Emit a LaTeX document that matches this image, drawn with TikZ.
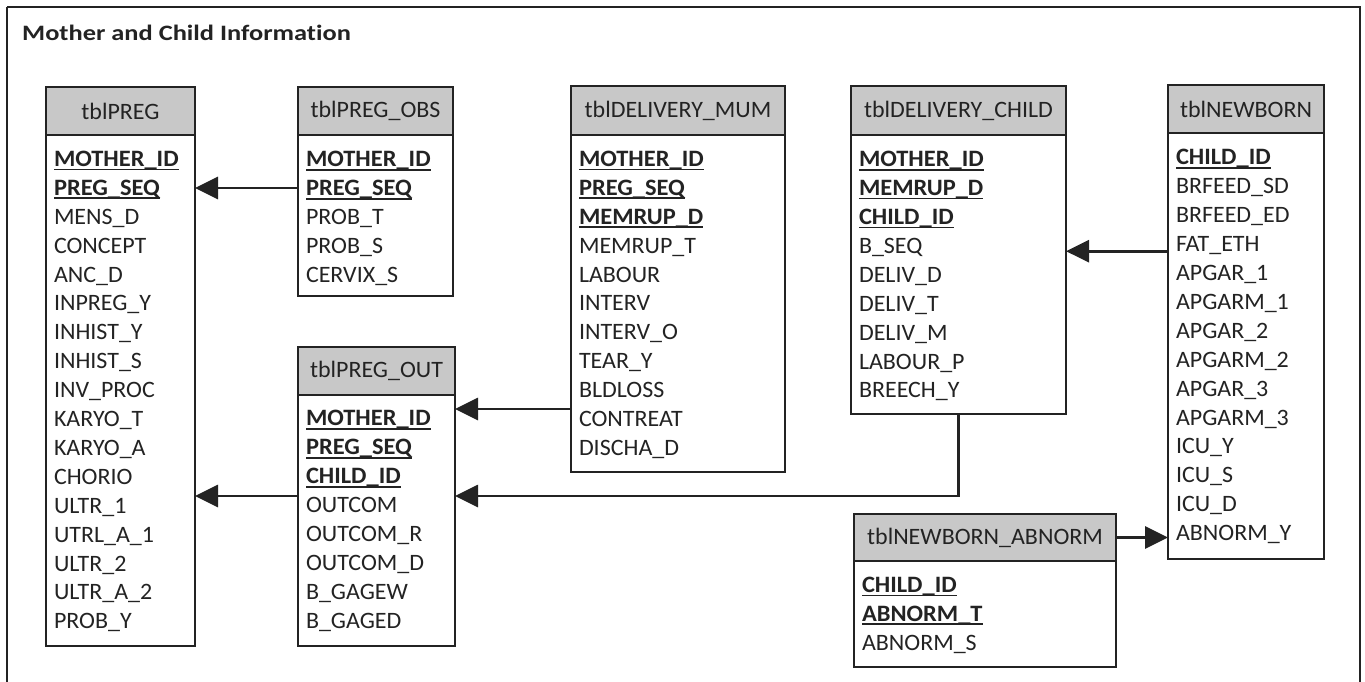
\documentclass[tikz,border=0pt]{standalone}
\usepackage{fontspec}
\setmainfont{Carlito}[FakeStretch=1.02, BoldFeatures={FakeStretch=1.04}]
\newfontfamily\titlefont{Carlito}[FakeStretch=1.2, Ligatures=NoCommon]
\usetikzlibrary{arrows.meta}
\definecolor{hdrgray}{RGB}{200,200,200}
\definecolor{ink}{RGB}{35,35,35}
\newcommand{\tfont}{\fontsize{23.5}{28.9}\selectfont}
\newcommand{\rs}{\rule[-8.7pt]{0pt}{28.9pt}}
\newsavebox{\kbox}
\newcommand{\kf}[1]{\sbox{\kbox}{\bfseries #1}\rlap{\rule[-3.8pt]{\wd\kbox}{1.7pt}}\usebox{\kbox}}
\newcommand{\dbtable}[8]{%
  \node[hdr, minimum width={#4-#2}, minimum height={#5-#3}, anchor=north west] (#1h) at (#2,-#3) {#7};
  \node[bodybox, minimum width={#4-#2}, minimum height={#6-#5}, anchor=north west] (#1) at (#2,-#5) {};
  \node[rows, anchor=north west] (#1r) at ([xshift=8,yshift=-11.2]#1.north west) {#8};
}
\begin{document}
\begin{tikzpicture}[x=1pt,y=1pt,
  hdr/.style={draw=ink, line width=2pt, fill=hdrgray, outer sep=0pt, inner sep=0pt, font=\tfont, text=ink},
  bodybox/.style={draw=ink, line width=2pt, fill=white, outer sep=0pt, inner sep=0pt},
  rows/.style={inner sep=0pt, outer sep=0pt, align=left, font=\tfont, text=ink},
  fk/.style={draw=ink, line width=2.8pt, -{Triangle[length=23pt,width=22pt]}},
  frame/.style={draw=ink, line width=2pt}]
\useasboundingbox (0,0) rectangle (1365,-682);
\fill[white] (0,0) rectangle (1365,-682);
\draw[frame] (7,-7) -- (7,-700) (7,-7) -- (1360,-7) -- (1360,-700);
\node[anchor=west, inner sep=0pt, font=\titlefont\bfseries\fontsize{22}{26}\selectfont, text=ink] (title) at (22,-33) {Mother and Child Information};

\dbtable{preg}{46}{87}{195}{135}{646}{tblPREG}{%
\rs\kf{MOTHER\_ID}\\\rs\kf{PREG\_SEQ}\\\rs MENS\_D\\\rs CONCEPT\\\rs ANC\_D\\\rs INPREG\_Y\\\rs INHIST\_Y\\\rs INHIST\_S\\\rs INV\_PROC\\\rs KARYO\_T\\\rs KARYO\_A\\\rs CHORIO\\\rs ULTR\_1\\\rs UTRL\_A\_1\\\rs ULTR\_2\\\rs ULTR\_A\_2\\\rs PROB\_Y}

\dbtable{obs}{298}{87}{453}{135.5}{296}{tblPREG\_OBS}{%
\rs\kf{MOTHER\_ID}\\\rs\kf{PREG\_SEQ}\\\rs PROB\_T\\\rs PROB\_S\\\rs CERVIX\_S}

\dbtable{pout}{298}{347}{455}{394.5}{646}{tblPREG\_OUT}{%
\rs\kf{MOTHER\_ID}\\\rs\kf{PREG\_SEQ}\\\rs\kf{CHILD\_ID}\\\rs OUTCOM\\\rs OUTCOM\_R\\\rs OUTCOM\_D\\\rs B\_GAGEW\\\rs B\_GAGED}

\dbtable{mum}{571}{86}{785}{135}{472}{tblDELIVERY\_MUM}{%
\rs\kf{MOTHER\_ID}\\\rs\kf{PREG\_SEQ}\\\rs\kf{MEMRUP\_D}\\\rs MEMRUP\_T\\\rs LABOUR\\\rs INTERV\\\rs INTERV\_O\\\rs TEAR\_Y\\\rs BLDLOSS\\\rs CONTREAT\\\rs DISCHA\_D}

\dbtable{dchild}{851}{86}{1066}{135.3}{414}{tblDELIVERY\_CHILD}{%
\rs\kf{MOTHER\_ID}\\\rs\kf{MEMRUP\_D}\\\rs\kf{CHILD\_ID}\\\rs B\_SEQ\\\rs DELIV\_D\\\rs DELIV\_T\\\rs DELIV\_M\\\rs LABOUR\_P\\\rs BREECH\_Y}

\dbtable{newborn}{1168}{85}{1324}{133.5}{559}{tblNEWBORN}{%
\rs\kf{CHILD\_ID}\\\rs BRFEED\_SD\\\rs BRFEED\_ED\\\rs FAT\_ETH\\\rs APGAR\_1\\\rs APGARM\_1\\\rs APGAR\_2\\\rs APGARM\_2\\\rs APGAR\_3\\\rs APGARM\_3\\\rs ICU\_Y\\\rs ICU\_S\\\rs ICU\_D\\\rs ABNORM\_Y}

\dbtable{abnorm}{854}{514}{1116}{561}{667}{tblNEWBORN\_ABNORM}{%
\rs\kf{CHILD\_ID}\\\rs\kf{ABNORM\_T}\\\rs ABNORM\_S}

% connectors
\coordinate (c1) at ([yshift=-52.5]obs.north west);
\draw[fk] (c1) -- (preg.east |- c1);
\coordinate (c2) at ([yshift=-101.5]pout.north west);
\draw[fk] (c2) -- (preg.east |- c2);
\coordinate (c3) at ([yshift=-274]mum.north west);
\draw[fk] (c3) -- (pout.east |- c3);
\coordinate (c4) at ([xshift=107.3]dchild.south west);
\coordinate (c4e) at (pout.east |- c2);
\draw[fk] (c4) |- (c4e);
\coordinate (c5) at ([yshift=-117.7]newborn.north west);
\draw[fk] (c5) -- (dchild.east |- c5);
\draw[fk] (abnormh.east) -- (newborn.west |- abnormh.east);
\end{tikzpicture}
\end{document}
